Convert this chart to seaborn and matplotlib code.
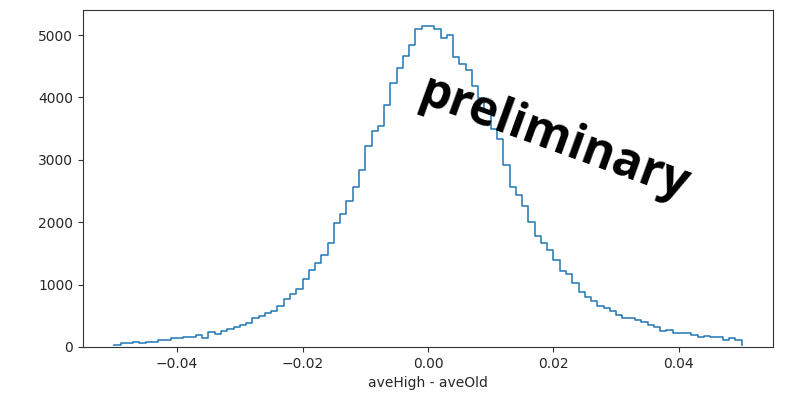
import numpy as np
import pandas as pd
import matplotlib
matplotlib.use("Agg")
import matplotlib.pyplot as plt
from matplotlib.patches import Rectangle
import seaborn as sns

# Histogram of aveHigh - aveOld: 100 bins of width 0.001 from -0.05 to 0.05
bin_lo = -0.05
bin_hi = 0.05
n_bins = 100
counts = [
    35, 72, 72, 73, 72, 74, 75, 112, 115, 140,
    142, 160, 162, 195, 151, 241, 215, 255, 290, 318,
    355, 380, 460, 493, 545, 570, 665, 765, 847, 932,
    1090, 1233, 1341, 1472, 1662, 1994, 2130, 2345, 2562, 2841,
    3227, 3460, 3548, 3878, 4234, 4475, 4665, 4834, 5105, 5140,
    5145, 5105, 4950, 5005, 4645, 4535, 4448, 4185, 3990, 3780,
    3500, 3330, 2921, 2572, 2439, 2255, 2010, 1775, 1662, 1554,
    1394, 1225, 1175, 1030, 885, 805, 730, 662, 625, 577,
    510, 472, 470, 440, 395, 357, 328, 257, 280, 225,
    225, 222, 188, 155, 180, 166, 166, 112, 143, 115,
]
x_label = "aveHigh - aveOld"
watermark = "preliminary"

edges = np.linspace(bin_lo, bin_hi, n_bins + 1)
centers = (edges[:-1] + edges[1:]) / 2
df = pd.DataFrame({"diff": centers, "n": counts})

fig = plt.figure(figsize=(7.85, 4.01), dpi=100)
ax = fig.add_axes([83 / 785, 1 - 347 / 401, 690 / 785, 337 / 401])

sns.histplot(data=df, x="diff", weights="n", bins=n_bins,
             binrange=(bin_lo, bin_hi), element="step",
             fill=True, color="#1f77b4", ax=ax)

# outline only; keep the baseline edge hidden under the bottom spine
clip = Rectangle((0, 0.004), 1, 1, transform=ax.transAxes, visible=False)
ax.add_patch(clip)
for coll in ax.collections:
    coll.set_facecolor("none")
    coll.set_edgecolor("#1f77b4")
    coll.set_linewidth(1.1)
    coll.set_alpha(1.0)
    coll.set_clip_path(clip)

span = bin_hi - bin_lo
ax.set_xlim(bin_lo - 0.05 * span, bin_hi + 0.05 * span)
ax.set_ylim(0, max(counts) * 1.05)
ax.set_yticks([0, 1000, 2000, 3000, 4000, 5000])
ax.set_xlabel(x_label, fontsize=10, color="#262626")
ax.set_ylabel("")
ax.tick_params(labelsize=10, labelcolor="#262626", color="#333333")
for sp in ax.spines.values():
    sp.set_color("#333333")

ax.text(0.683, 0.615, watermark, transform=ax.transAxes, rotation=-20,
        rotation_mode="anchor", ha="center", va="center",
        fontsize=35, family="Open Sans", fontweight="bold", color="black")

fig.savefig("out.png", dpi=100)
